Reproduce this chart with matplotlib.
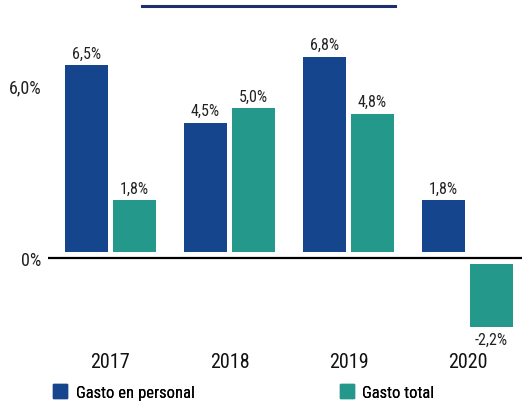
import matplotlib.pyplot as plt
import numpy as np
from matplotlib import font_manager
from matplotlib.patches import Patch

years = ['2017', '2018', '2019', '2020']
gasto_personal = [6.5, 4.5, 6.8, 1.8]
gasto_total = [1.8, 5.0, 4.8, -2.2]
series_names = ['Gasto en personal', 'Gasto total']
y_ticks = [0, 6]
y_tick_labels = ['0%', '6,0%']

navy = '#15458C'
teal = '#23988B'

names = {f.name for f in font_manager.fontManager.ttflist}
fam = [n for n in ['Roboto Condensed', 'Liberation Sans Narrow', 'Roboto', 'DejaVu Sans'] if n in names]
plt.rcParams['font.family'] = fam

fig = plt.figure(figsize=(5.22, 4.02), dpi=100)
# axes: left 48px, right 522px, top 0, bottom 335px
ax = fig.add_axes([48 / 522, 1 - 335 / 402, (522 - 48) / 522, 335 / 402])

x = np.arange(len(years))
w = 43 / 119
off = 24 / 119
gap = 0.21  # visual gap between bars and the zero line

for vals, dx, color in [(gasto_personal, -off, navy), (gasto_total, off, teal)]:
    vals = np.array(vals)
    bottoms = np.sign(vals) * gap
    ax.bar(x + dx, vals, width=w, bottom=bottoms, color=color)
    for xi, v in zip(x + dx, vals):
        top = v + np.sign(v) * gap
        txt = f'{v:.1f}%'.replace('.', ',')
        if v >= 0:
            ax.annotate(txt, (xi, top), xytext=(0, 3.5), textcoords='offset points',
                        ha='center', va='bottom', fontsize=11.5, color='#222222')
        else:
            ax.annotate(txt, (xi, top), xytext=(0, -3.5), textcoords='offset points',
                        ha='center', va='top', fontsize=11.5, color='#222222')

ax.axhline(0, color='black', lw=1.6)
ax.set_xlim(-0.525, 3.458)
ax.set_ylim(-2.65, 9.02)
ax.set_yticks(y_ticks)
ax.set_yticklabels(y_tick_labels, fontsize=13, color='#222222')
ax.set_xticks(x)
ax.set_xticklabels(years, fontsize=14.5, color='#111111')
ax.tick_params(axis='both', length=0)
ax.tick_params(axis='x', pad=13)
ax.tick_params(axis='y', pad=5)
for s in ax.spines.values():
    s.set_visible(False)

# decorative line at the top
fig.add_artist(plt.Line2D([142 / 522, 395 / 522], [1 - 7 / 402, 1 - 7 / 402],
                          color='#1F2E6E', lw=2.2, transform=fig.transFigure))

# legend, one entry per block
for name, color, xpos in [(series_names[0], navy, 53), (series_names[1], teal, 340)]:
    leg = fig.legend([Patch(color=color)], [name], loc='center left',
                     bbox_to_anchor=(xpos / 522, 1 - 393 / 402), frameon=False,
                     fontsize=12, handlelength=0.85, handleheight=0.85,
                     handletextpad=0.5, borderaxespad=0, borderpad=0)
    fig.add_artist(leg)

fig.savefig('out.png', dpi=100)
